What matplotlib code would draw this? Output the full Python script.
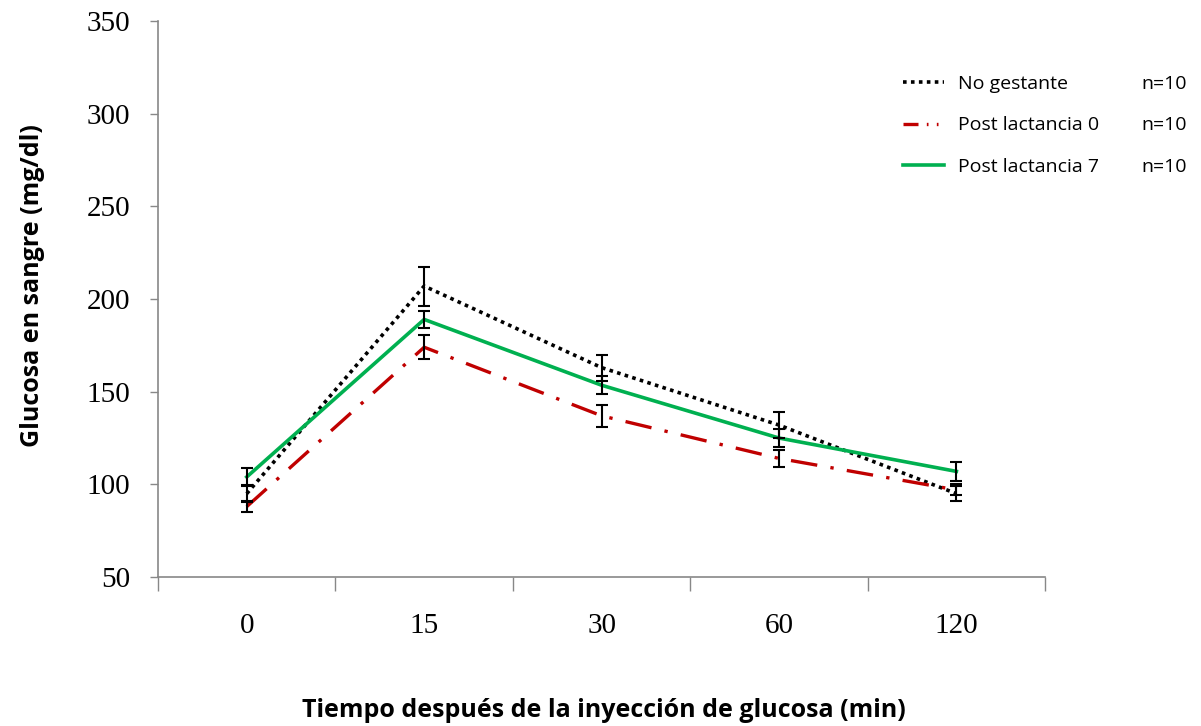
import numpy as np
import matplotlib.pyplot as plt
from matplotlib.lines import Line2D

# Glucose tolerance test data
tiempos = ["0", "15", "30", "60", "120"]

no_gestante = [95, 207, 163, 132, 95]
no_gestante_err = [4.5, 10.5, 7, 7, 4]

post_lact_0 = [88, 174, 137, 114, 97]
post_lact_0_err = [3, 6.5, 6, 4.5, 3]

post_lact_7 = [104, 189, 153.5, 125, 107]
post_lact_7_err = [5, 4.5, 5, 5, 5]

n_muestra = ["n=10", "n=10", "n=10"]

series = [
    ("No gestante", no_gestante, no_gestante_err, "black", (0, (1, 1.2)), 2.6),
    ("Post lactancia 0", post_lact_0, post_lact_0_err, "#C00000", (0, (8, 4, 1, 4)), 2.4),
    ("Post lactancia 7", post_lact_7, post_lact_7_err, "#00B050", "-", 2.6),
]

fig = plt.figure(figsize=(12.01, 7.26), dpi=100)
ax = fig.add_axes([0.1316, 0.2052, 0.7386, 0.7658])

x = np.arange(len(tiempos))
handles = []
for label, vals, err, color, ls, lw in series:
    ax.plot(x, vals, color=color, linestyle=ls, lw=lw, zorder=2)
    ax.errorbar(x, vals, yerr=err, fmt="none", ecolor="black", elinewidth=1.5,
                capsize=4.5, capthick=1.5, zorder=3)
    # shorter dash pattern so the legend sample shows dash and dots
    if color == "#C00000":
        ls = (0, (4.5, 2.5, 0.5, 2.5, 0.5, 3))
    handles.append(Line2D([], [], color=color, linestyle=ls, lw=lw, label=label))

ax.set_xlim(-0.5, len(tiempos) - 0.5)
ax.set_ylim(50, 350)
ax.set_yticks(np.arange(50, 351, 50))

# category boundaries get the tick marks, labels sit at the centres
ax.set_xticks(np.arange(-0.5, len(tiempos), 1.0))
ax.set_xticklabels([])
ax.set_xticks(x, minor=True)
ax.set_xticklabels(tiempos, minor=True)
ax.tick_params(axis="x", which="major", length=10, width=1, color="#888888")
ax.tick_params(axis="x", which="minor", length=0, pad=26, labelsize=21)
ax.tick_params(axis="y", length=6, width=1, color="#888888", pad=14, labelsize=21)
for lbl in ax.get_xticklabels(minor=True) + ax.get_yticklabels():
    lbl.set_family("Liberation Serif")

for side in ["top", "right"]:
    ax.spines[side].set_visible(False)
for side in ["left", "bottom"]:
    ax.spines[side].set_color("#888888")
    ax.spines[side].set_linewidth(1.2)

ax.set_ylabel("Glucosa en sangre (mg/dl)", fontsize=18, fontweight="bold",
              family="Open Sans")
ax.yaxis.set_label_coords(-0.128, 0.525)
fig.text(0.5025, 0.012, "Tiempo después de la inyección de glucosa (min)",
         fontsize=18, fontweight="bold", family="Open Sans", ha="center")

leg = ax.legend(handles=handles, loc="upper left", bbox_to_anchor=(0.82, 0.935),
                frameon=False, prop={"family": "Open Sans", "size": 14},
                handlelength=2.1, labelspacing=1.22, handletextpad=0.75)

# sample sizes on the same baseline as each legend entry
fig.canvas.draw()
inv = fig.transFigure.inverted()
for txt, n in zip(leg.get_texts(), n_muestra):
    _, y_fig = inv.transform(txt.get_window_extent().p0)
    fig.text(1141 / 1201, y_fig, n, fontsize=14, family="Open Sans", va="bottom")

fig.savefig("out.png", dpi=100)
